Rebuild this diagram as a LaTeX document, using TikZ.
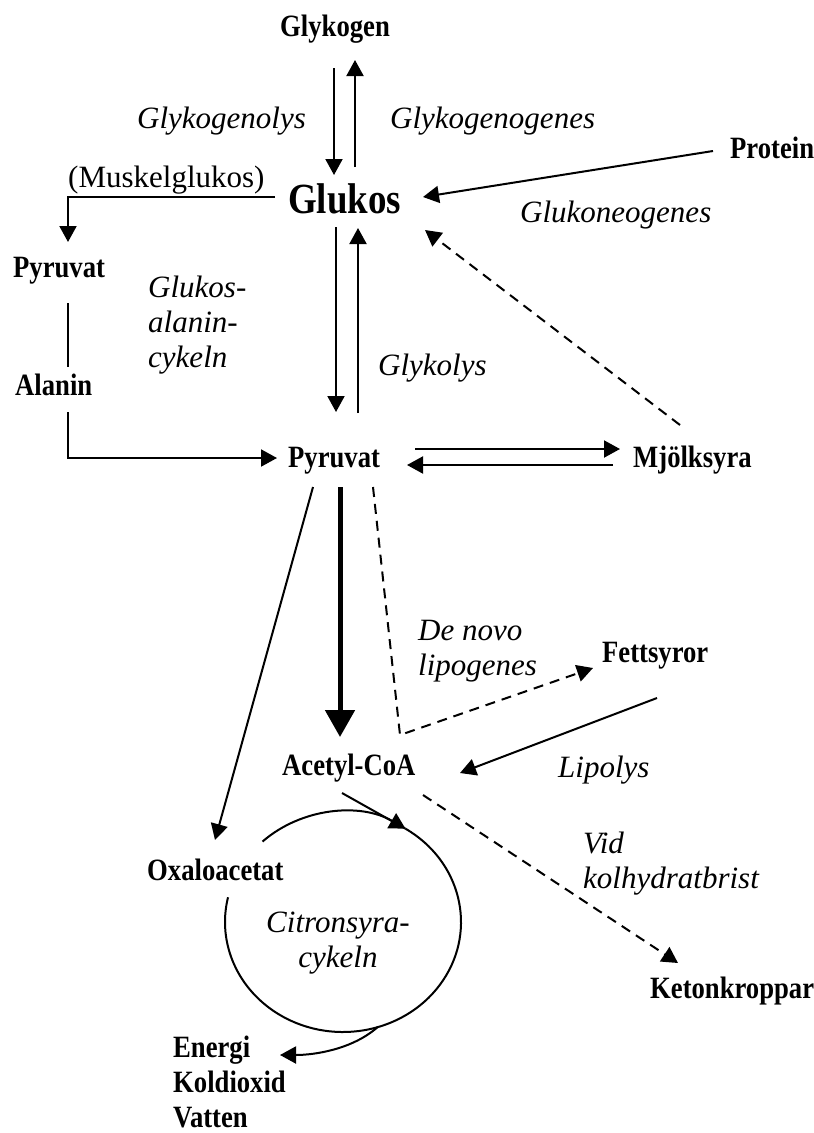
\documentclass[tikz,border=0pt]{standalone}
\usepackage{fontspec}
\setmainfont{Liberation Serif}[BoldFont={Liberation Serif Bold}, ItalicFont={Liberation Serif Italic}, BoldItalicFont={Liberation Serif Bold Italic}]
\newfontfamily\lblfont{Liberation Serif Bold}[FakeStretch=0.86]
\usetikzlibrary{arrows.meta}

\tikzstyle{compound}=[font=\lblfont\fontsize{31}{36}\selectfont, inner sep=0pt, anchor=base west, align=left]
\tikzstyle{process}=[font=\itshape\fontsize{31}{35}\selectfont, inner sep=0pt, anchor=base west, align=left]
\tikzstyle{arrow}=[line width=2pt, -{Triangle[length=16pt,width=17pt]}]
\tikzstyle{darrow}=[arrow, dash pattern=on 10pt off 7pt]
\tikzstyle{bigarrow}=[line width=5pt, -{Triangle[length=27pt,width=29pt]}]

\begin{document}
\begin{tikzpicture}[x=1pt, y=-1pt]
\useasboundingbox (0,0) rectangle (814,1133);

% substances
\node(glykogen)[compound] at (280,36){Glykogen};
\node(glukos)[compound, font=\lblfont\fontsize{43}{48}\selectfont] at (288,213){Glukos};
\node(protein)[compound] at (730,158){Protein};
\node(pyrL)[compound] at (13,277){Pyruvat};
\node(alanin)[compound] at (15,395){Alanin};
\node(pyr)[compound] at (288,467){Pyruvat};
\node(mjolk)[compound] at (633,467){Mjölksyra};
\node(fett)[compound] at (602,662){Fettsyror};
\node(acetyl)[compound] at (282,775){Acetyl-CoA};
\node(oxalo)[compound] at (147,880){Oxaloacetat};
\node(keton)[compound] at (650,998){Ketonkroppar};
\node(energi)[compound, font=\lblfont\fontsize{31}{35}\selectfont] at (173,1127){Energi\\Koldioxid\\Vatten};

% processes
\node(muskel)[process, font=\fontsize{31}{35}\selectfont] at (68,187){(Muskelglukos)};
\node(glykogenolys)[process] at (137,128){Glykogenolys};
\node(glykogenogenes)[process] at (390,128){Glykogenogenes};
\node(glukoneogenes)[process] at (520,222){Glukoneogenes};
\node(gacykel)[process] at (148,367){Glukos-\\alanin-\\cykeln};
\node(glykolys)[process] at (378,375){Glykolys};
\node(denovo)[process] at (418,675){De novo\\lipogenes};
\node(lipolys)[process] at (558,777){Lipolys};
\node(vid)[process] at (583,888){Vid\\kolhydratbrist};
\node(citron)[process, anchor=base, align=center] at (338,967){Citronsyra-\\cykeln};
\coordinate(tca) at (343,922);

\draw[arrow]([shift={(54,32)}]glykogen.base west)--([shift={(46,-38)}]glukos.base west);
\draw[arrow]([shift={(67,-46)}]glukos.base west)--([shift={(75,24)}]glykogen.base west);
\draw[arrow]([shift={(-17,-7)}]protein.base west)--([shift={(135,-16)}]glukos.base west);
\draw[darrow]([shift={(47,-42)}]mjolk.base west)--([shift={(137,17)}]glukos.base west);
\draw[arrow]([shift={(-13,-16)}]glukos.base west)-|([shift={(55,-35)}]pyrL.base west);
\draw[line width=2pt]([shift={(55,26)}]pyrL.base west)--([shift={(53,-28)}]alanin.base west);
\draw[arrow]([shift={(53,17)}]alanin.base west)|-([shift={(-11,-9)}]pyr.base west);
\draw[arrow]([shift={(48,14)}]glukos.base west)--([shift={(48,-55)}]pyr.base west);
\draw[arrow]([shift={(70,-54)}]pyr.base west)--([shift={(70,15)}]glukos.base west);
\draw[arrow]([shift={(127,-18)}]pyr.base west)--([shift={(-13,-18)}]mjolk.base west);
\draw[arrow]([shift={(-20,-2)}]mjolk.base west)--([shift={(119,-2)}]pyr.base west);
\draw[arrow]([shift={(25,20)}]pyr.base west)--([shift={(68,-40)}]oxalo.base west);
\draw[bigarrow]([shift={(52,20)}]pyr.base west)--([shift={(58,-38)}]acetyl.base west);
\draw[darrow]([shift={(85,20)}]pyr.base west)--([shift={(118,-40)}]acetyl.base west)--([shift={(-9,6)}]fett.base west);
\draw[arrow]([shift={(55,36)}]fett.base west)--([shift={(178,-2)}]acetyl.base west);
\draw[darrow]([shift={(141,20)}]acetyl.base west)--([shift={(28,-35)}]keton.base west);

% citric acid cycle
\draw[line width=2pt]([shift={(60,18)}]acetyl.base west)--([shift={(-58:118 and 110)}]tca);
\draw[arrow]([shift={(-133:118 and 110)}]tca) arc[start angle=-133, end angle=-58, x radius=118, y radius=110];
\draw[line width=2pt]([shift={(-58:118 and 110)}]tca) arc[start angle=-58, end angle=193, x radius=118, y radius=110];
\draw[arrow]([shift={(73:118 and 110)}]tca) .. controls +(-25,22) and +(35,0) .. ([shift={(107,-72)}]energi.base west);

\end{tikzpicture}
\end{document}
